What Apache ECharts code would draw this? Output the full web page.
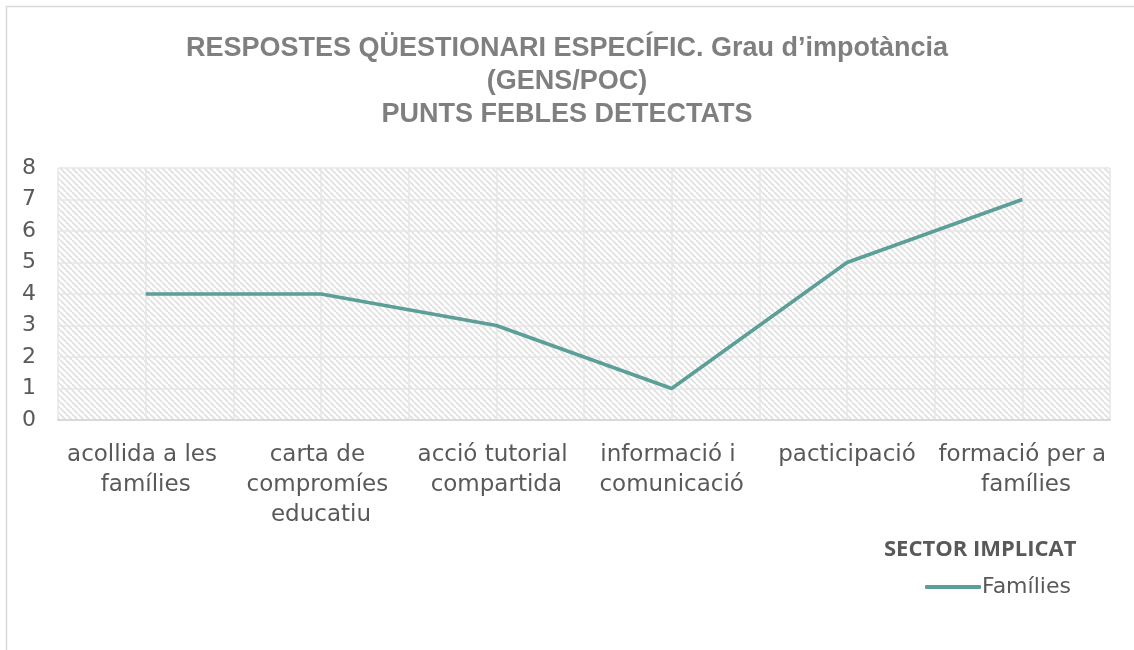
<!DOCTYPE html>
<html>
<head>
<meta charset="utf-8">
<script src="https://cdn.jsdelivr.net/npm/echarts@6/dist/echarts.min.js"></script>
<style>
  html, body { margin: 0; padding: 0; background: #fff; }
  #chart { width: 1134px; height: 650px; }
</style>
</head>
<body>
<div id="chart"></div>
<script>
// dades del gràfic
const categories = [
  'acollida a les famílies',
  'carta de compromíes educatiu',
  'acció tutorial compartida',
  'informació i comunicació',
  'pacticipació',
  'formació per a famílies'
];
const seriesName = 'Famílies';
const values = [4, 4, 3, 1, 5, 7];
const halfSteps = ['', '', '', '', '', '', '', '', '', '', '', ''];

// patró ratllat per al fons de l'àrea de dibuix
function makeHatch() {
  const size = 6;
  const c = document.createElement('canvas');
  c.width = size;
  c.height = size;
  const ctx = c.getContext('2d');
  ctx.fillStyle = '#ffffff';
  ctx.fillRect(0, 0, size, size);
  ctx.strokeStyle = '#dfdfdf';
  ctx.lineWidth = 1.6;
  for (let k = -size; k <= size; k += size) {
    ctx.beginPath();
    ctx.moveTo(k, 0);
    ctx.lineTo(k + size, size);
    ctx.stroke();
  }
  return c;
}

const font = '"DejaVu Sans", sans-serif';
const chart = echarts.init(document.getElementById('chart'));

const option = {
  animation: false,
  backgroundColor: '#ffffff',
  title: [
    {
      text: 'RESPOSTES QÜESTIONARI ESPECÍFIC. Grau d\u2019impotància\n(GENS/POC)\nPUNTS FEBLES DETECTATS',
      left: 'center',
      top: 27,
      padding: [5, 0, 5, 10],
      textStyle: {
        fontFamily: '"Liberation Sans", sans-serif',
        fontWeight: 'bold',
        fontSize: 27,
        lineHeight: 33,
        color: '#7f7f7f',
        align: 'center'
      }
    },
    {
      text: 'SECTOR IMPLICAT',
      left: 879,
      top: 534,
      textStyle: {
        fontFamily: '"Open Sans", sans-serif',
        fontWeight: 'bold',
        fontSize: 22,
        color: '#595959'
      }
    }
  ],
  legend: {
    data: [seriesName],
    left: 920,
    top: 571,
    icon: 'roundRect',
    itemWidth: 56,
    itemHeight: 4,
    itemGap: 0,
    textStyle: {
      fontFamily: font,
      fontSize: 22,
      color: '#595959',
      padding: [0, 0, 0, -4]
    }
  },
  graphic: [
    {
      type: 'polyline',
      shape: { points: [[6.5, 660], [6.5, 6.5], [1140, 6.5]] },
      style: { stroke: '#d9d9d9', lineWidth: 1.5, fill: null },
      silent: true
    }
  ],
  grid: {
    left: 58,
    right: 24,
    top: 168,
    bottom: 230,
    show: true,
    borderWidth: 0,
    backgroundColor: { image: makeHatch(), repeat: 'repeat' }
  },
  xAxis: [
    {
      type: 'category',
      data: categories,
      boundaryGap: true,
      axisLine: { show: true, lineStyle: { color: '#d9d9d9', width: 2 } },
      axisTick: { show: false },
      splitLine: { show: false },
      axisLabel: {
        interval: 0,
        margin: 20,
        width: 180,
        overflow: 'break',
        lineHeight: 30,
        fontFamily: font,
        fontSize: 23,
        color: '#595959'
      }
    },
    {
      type: 'category',
      data: halfSteps,
      position: 'bottom',
      boundaryGap: true,
      axisLine: { show: false },
      axisTick: { show: false },
      axisLabel: { show: false },
      splitLine: { show: true, lineStyle: { color: '#e6e6e6', width: 1.5 } }
    }
  ],
  yAxis: {
    type: 'value',
    min: 0,
    max: 8,
    interval: 1,
    axisLine: { show: false },
    axisTick: { show: false },
    axisLabel: {
      margin: 22,
      fontFamily: font,
      fontSize: 22,
      color: '#595959'
    },
    splitLine: { show: true, lineStyle: { color: '#e6e6e6', width: 1.5 } }
  },
  series: [
    {
      name: seriesName,
      type: 'line',
      data: values,
      symbol: 'none',
      lineStyle: { color: '#5b9f98', width: 3.5 },
      itemStyle: { color: '#5b9f98' }
    }
  ]
};

chart.setOption(option);
</script>
</body>
</html>
